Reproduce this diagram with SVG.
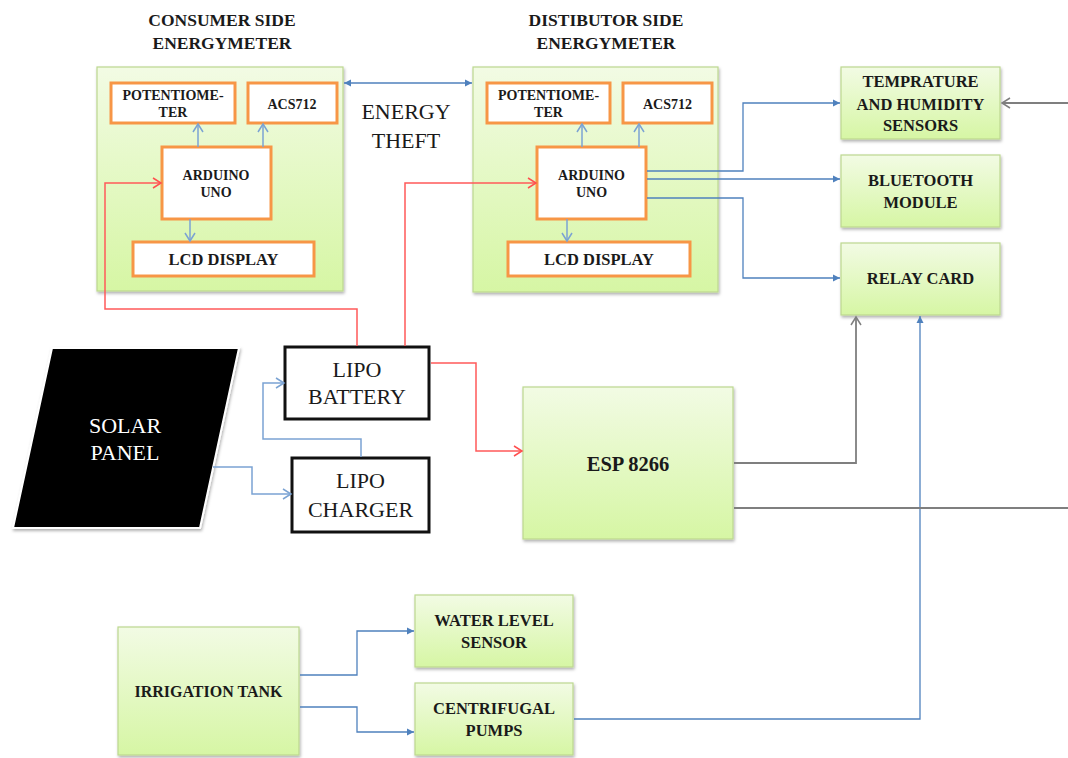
<svg xmlns="http://www.w3.org/2000/svg" width="1068" height="758" viewBox="0 0 1068 758">
<defs>
<linearGradient id="gr" x1="0" y1="0" x2="0" y2="1">
<stop offset="0" stop-color="#f2fbe4"/>
<stop offset="1" stop-color="#d6f6a4"/>
</linearGradient>
<filter id="sh" x="-10%" y="-10%" width="125%" height="125%">
<feDropShadow dx="1" dy="2" stdDeviation="1.5" flood-color="#000" flood-opacity="0.3"/>
</filter>
<marker id="mRed" markerUnits="userSpaceOnUse" markerWidth="12" markerHeight="12" refX="9" refY="6" orient="auto">
<path d="M1,1 L9,6 L1,11" fill="none" stroke="#ff4f4f" stroke-width="1.5"/>
</marker>
<marker id="mLb" markerUnits="userSpaceOnUse" markerWidth="12" markerHeight="12" refX="9" refY="6" orient="auto">
<path d="M1,1 L9,6 L1,11" fill="none" stroke="#7ba3d3" stroke-width="1.5"/>
</marker>
<marker id="mGray" markerUnits="userSpaceOnUse" markerWidth="12" markerHeight="12" refX="9" refY="6" orient="auto">
<path d="M1,1 L9,6 L1,11" fill="none" stroke="#7f7f7f" stroke-width="1.5"/>
</marker>
<marker id="mBlue" markerUnits="userSpaceOnUse" markerWidth="8" markerHeight="8" refX="7" refY="4" orient="auto-start-reverse">
<path d="M0,0.5 L7,4 L0,7.5 Z" fill="#4f81bd"/>
</marker>
</defs>
<rect width="1068" height="758" fill="#fff"/>

<g font-family="Liberation Serif" fill="#1a1a1a" text-anchor="middle">
<g id="consumer-title" font-weight="bold" font-size="17.5"><text x="222" y="26">CONSUMER SIDE</text><text x="222" y="49">ENERGYMETER</text></g>
<g id="distributor-title" font-weight="bold" font-size="17.5"><text x="606" y="26">DISTIBUTOR SIDE</text><text x="606" y="49">ENERGYMETER</text></g>
<g id="energy-theft" font-size="22"><text x="406" y="119">ENERGY</text><text x="406" y="148">THEFT</text></g>

<g id="consumer-meter"><rect x="97" y="67" width="246" height="224" fill="url(#gr)" stroke="#bcd88f" stroke-width="1.2" filter="url(#sh)"/></g>
<g id="c-pot" font-weight="bold" font-size="14"><rect x="111" y="83" width="124" height="40" fill="#fff" stroke="#f79646" stroke-width="3"/><text x="173" y="99.5">POTENTIOME-</text><text x="173" y="117">TER</text></g>
<g id="c-acs" font-weight="bold" font-size="14"><rect x="248" y="83" width="89" height="40" fill="#fff" stroke="#f79646" stroke-width="3"/><text x="292" y="109">ACS712</text></g>
<g id="c-arduino" font-weight="bold" font-size="14"><rect x="162" y="147" width="109" height="72" fill="#fff" stroke="#f79646" stroke-width="3"/><text x="216" y="180">ARDUINO</text><text x="216" y="197">UNO</text></g>
<g id="c-lcd" font-weight="bold" font-size="16.5"><rect x="133" y="242" width="181" height="34" fill="#fff" stroke="#f79646" stroke-width="3"/><text x="223.5" y="265">LCD DISPLAY</text></g>

<g id="distributor-meter"><rect x="473" y="67" width="245" height="225" fill="url(#gr)" stroke="#bcd88f" stroke-width="1.2" filter="url(#sh)"/></g>
<g id="d-pot" font-weight="bold" font-size="14"><rect x="487" y="83" width="123" height="40" fill="#fff" stroke="#f79646" stroke-width="3"/><text x="548.5" y="99.5">POTENTIOME-</text><text x="548.5" y="117">TER</text></g>
<g id="d-acs" font-weight="bold" font-size="14"><rect x="623" y="83" width="89" height="40" fill="#fff" stroke="#f79646" stroke-width="3"/><text x="667.5" y="109">ACS712</text></g>
<g id="d-arduino" font-weight="bold" font-size="14"><rect x="537" y="147" width="109" height="72" fill="#fff" stroke="#f79646" stroke-width="3"/><text x="591.5" y="180">ARDUINO</text><text x="591.5" y="197">UNO</text></g>
<g id="d-lcd" font-weight="bold" font-size="16.5"><rect x="508" y="242" width="182" height="34" fill="#fff" stroke="#f79646" stroke-width="3"/><text x="599" y="265">LCD DISPLAY</text></g>

<g id="temp" font-weight="bold" font-size="16.5"><rect x="841" y="67" width="159" height="72" fill="url(#gr)" stroke="#bcd88f" stroke-width="1.2" filter="url(#sh)"/><text x="920.5" y="87">TEMPRATURE</text><text x="920.5" y="110">AND HUMIDITY</text><text x="920.5" y="131">SENSORS</text></g>
<g id="bluetooth" font-weight="bold" font-size="16.5"><rect x="841" y="155" width="159" height="72" fill="url(#gr)" stroke="#bcd88f" stroke-width="1.2" filter="url(#sh)"/><text x="920.5" y="186">BLUETOOTH</text><text x="920.5" y="208">MODULE</text></g>
<g id="relay" font-weight="bold" font-size="16.5"><rect x="841" y="243" width="159" height="72" fill="url(#gr)" stroke="#bcd88f" stroke-width="1.2" filter="url(#sh)"/><text x="920.5" y="284">RELAY CARD</text></g>

<g id="solar" font-size="22"><polygon points="52,348 239,348 200,528 13,528" fill="#000" stroke="#fff" stroke-width="2" filter="url(#sh)"/><text x="125" y="433" fill="#fff">SOLAR</text><text x="125" y="460" fill="#fff">PANEL</text></g>
<g id="battery" font-size="22"><rect x="285" y="347" width="144" height="72" fill="#fff" stroke="#111" stroke-width="3"/><text x="357" y="377">LIPO</text><text x="357" y="404">BATTERY</text></g>
<g id="charger" font-size="22"><rect x="292" y="458" width="137" height="74" fill="#fff" stroke="#111" stroke-width="3"/><text x="360.5" y="488">LIPO</text><text x="360.5" y="517">CHARGER</text></g>

<g id="esp" font-weight="bold" font-size="20.5"><rect x="523" y="387" width="210" height="152" fill="url(#gr)" stroke="#bcd88f" stroke-width="1.2" filter="url(#sh)"/><text x="628" y="471">ESP 8266</text></g>

<g id="irrigation" font-weight="bold" font-size="16"><rect x="118" y="627" width="181" height="128" fill="url(#gr)" stroke="#bcd88f" stroke-width="1.2" filter="url(#sh)"/><text x="208.5" y="697">IRRIGATION TANK</text></g>
<g id="water" font-weight="bold" font-size="16.5"><rect x="415" y="595" width="158" height="72" fill="url(#gr)" stroke="#bcd88f" stroke-width="1.2" filter="url(#sh)"/><text x="494" y="626">WATER LEVEL</text><text x="494" y="648">SENSOR</text></g>
<g id="pumps" font-weight="bold" font-size="16.5"><rect x="415" y="683" width="158" height="72" fill="url(#gr)" stroke="#bcd88f" stroke-width="1.2" filter="url(#sh)"/><text x="494" y="714">CENTRIFUGAL</text><text x="494" y="736">PUMPS</text></g>
</g>

<g id="connectors" fill="none">
<g stroke="#7ba3d3" stroke-width="1.5" marker-end="url(#mLb)">
<path d="M198,147 V124"/>
<path d="M263,147 V124"/>
<path d="M190,219 V241"/>
<path d="M582,147 V124"/>
<path d="M639,147 V124"/>
<path d="M567,219 V241"/>
<path d="M213,467 H252 V494 H291"/>
<path d="M361,457 V439 H263 V383 H284"/>
</g>
<g stroke="#ff5a5a" stroke-width="1.5" marker-end="url(#mRed)">
<path d="M357,346 V309 H105 V183 H161"/>
<path d="M405,346 V183 H536"/>
<path d="M431,363 H476 V451 H522"/>
</g>
<g stroke="#4f81bd" stroke-width="1.3" marker-end="url(#mBlue)">
<path d="M344,83 H472" marker-start="url(#mBlue)"/>
<path d="M647,171 H743 V103 H840"/>
<path d="M647,179 H840"/>
<path d="M647,198 H743 V278 H840"/>
<path d="M574,719 H920 V316"/>
<path d="M300,675 H357 V631 H414"/>
<path d="M300,707 H357 V732 H414"/>
</g>
<g stroke="#7f7f7f" stroke-width="1.8">
<path d="M1068,103 H1002" marker-end="url(#mGray)"/>
<path d="M734,463 H856 V317" marker-end="url(#mGray)"/>
<path d="M734,508 H1068"/>
</g>
</g>
</svg>
